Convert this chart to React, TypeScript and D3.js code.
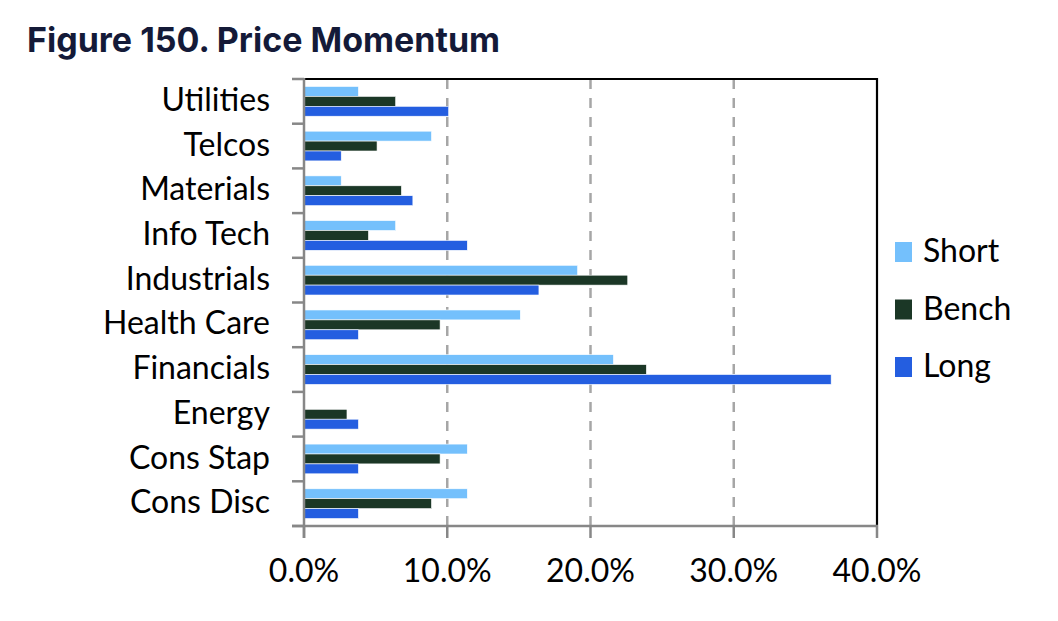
import React from "react";
import * as d3 from "d3";

const categories = [
  "Utilities",
  "Telcos",
  "Materials",
  "Info Tech",
  "Industrials",
  "Health Care",
  "Financials",
  "Energy",
  "Cons Stap",
  "Cons Disc",
];
const seriesNames = ["Short", "Bench", "Long"];
const shortValues = [3.8, 8.9, 2.6, 6.4, 19.1, 15.1, 21.6, 0, 11.4, 11.4];
const benchValues = [6.4, 5.1, 6.8, 4.5, 22.6, 9.5, 23.9, 3.0, 9.5, 8.9];
const longValues = [10.1, 2.6, 7.6, 11.4, 16.4, 3.8, 36.8, 3.8, 3.8, 3.8];
const xTicks = [0, 10, 20, 30, 40];
const colors = ["#74C0FC", "#1B3726", "#245EE0"];
const title = "Figure 150. Price Momentum";

const W = 1058;
const H = 621;
const X0 = 304;
const X1 = 877;
const Y0 = 79;
const Y1 = 526;
const labelFont = "Lato, 'Open Sans', sans-serif";

export default function App() {
  const x = d3.scaleLinear().domain([0, 40]).range([X0, X1]);
  const y = d3
    .scaleBand<string>()
    .domain(categories)
    .range([Y0, Y1])
    .paddingInner(0.335)
    .paddingOuter(0.1675);
  const inner = d3
    .scaleBand<string>()
    .domain(seriesNames)
    .range([0, y.bandwidth()])
    .padding(0);
  const seriesValues = [shortValues, benchValues, longValues];
  const step = y.step();
  const boundaries = d3.range(categories.length + 1).map((i) => Y0 + i * step);

  return (
    <svg
      width={W}
      height={H}
      style={{ position: "absolute", left: 0, top: 0, background: "#fff" }}
    >
      <text
        x={27}
        y={52}
        fontFamily="Inter, sans-serif"
        fontWeight={700}
        fontSize={34}
        fill="#141a38"
      >
        {title}
      </text>

      {/* gridlines */}
      {xTicks.slice(1, -1).map((t) => (
        <line
          key={"g" + t}
          x1={x(t)}
          x2={x(t)}
          y1={Y0}
          y2={Y1}
          stroke="#a6a6a6"
          strokeWidth={2.5}
          strokeDasharray="10 9"
        />
      ))}

      {/* bars */}
      {seriesNames.map((s, si) =>
        categories.map((c, ci) => {
          const v = seriesValues[si][ci];
          if (!v) return null;
          return (
            <rect
              key={s + c}
              x={x(0)}
              y={(y(c) as number) + (inner(s) as number)}
              width={x(v) - x(0)}
              height={inner.bandwidth()}
              fill={colors[si]}
              stroke="#ffffff"
              strokeWidth={0.6}
            />
          );
        })
      )}

      {/* top/right border */}
      <path
        d={`M${X0},${Y0}H${X1}V${Y1}`}
        fill="none"
        stroke="#000"
        strokeWidth={2.2}
      />

      {/* left axis */}
      <line x1={X0} x2={X0} y1={Y0 - 1} y2={Y1 + 12} stroke="#878787" strokeWidth={2.5} />
      {boundaries.map((b, i) => (
        <line key={"lt" + i} x1={292} x2={X0} y1={b} y2={b} stroke="#878787" strokeWidth={2.5} />
      ))}
      {/* bottom axis */}
      <line x1={292} x2={X1 + 1} y1={Y1} y2={Y1} stroke="#878787" strokeWidth={2.5} />
      {xTicks.map((t) => (
        <line key={"bt" + t} x1={x(t)} x2={x(t)} y1={Y1} y2={Y1 + 12} stroke="#878787" strokeWidth={2.5} />
      ))}

      {/* category labels */}
      {categories.map((c) => (
        <text
          key={"cl" + c}
          x={270}
          y={(y(c) as number) + y.bandwidth() / 2}
          dy="0.3em"
          textAnchor="end"
          fontFamily={labelFont}
          fontSize={32}
          fill="#000"
        >
          {c}
        </text>
      ))}

      {/* x tick labels */}
      {xTicks.map((t) => (
        <text
          key={"xl" + t}
          x={x(t)}
          y={582}
          textAnchor="middle"
          fontFamily={labelFont}
          fontSize={32}
          fill="#000"
        >
          {d3.format(".1f")(t) + "%"}
        </text>
      ))}

      {/* legend */}
      {seriesNames.map((s, i) => {
        const by = 262 + i * 57.5;
        return (
          <g key={"lg" + s}>
            <rect x={895} y={by - 20} width={17} height={20} fill={colors[i]} />
            <text x={923} y={by} fontFamily={labelFont} fontSize={32} fill="#000">
              {s}
            </text>
          </g>
        );
      })}
    </svg>
  );
}
